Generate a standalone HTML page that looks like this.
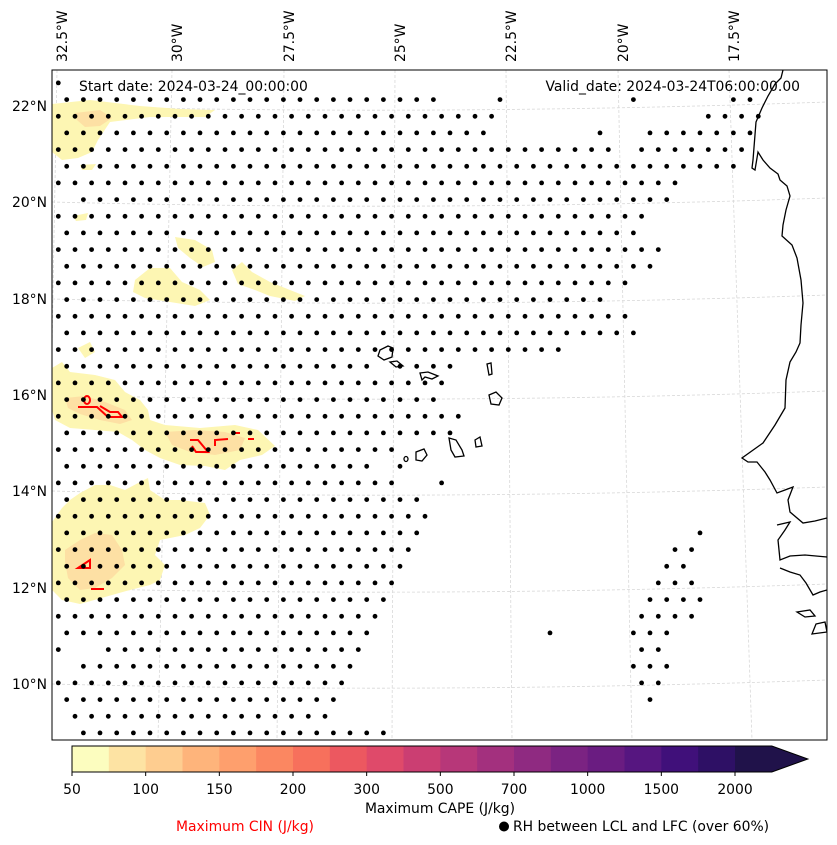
<!DOCTYPE html>
<html><head><meta charset="utf-8"><style>
html,body{margin:0;padding:0;background:#fff;}
svg{display:block;font-family:"DejaVu Sans","Liberation Sans",sans-serif;}
</style></head><body>
<svg id="chart" width="837" height="845" viewBox="0 0 837 845" xmlns="http://www.w3.org/2000/svg">
<defs><clipPath id="mapclip"><rect x="52" y="70" width="775" height="670"/></clipPath></defs>
<g id="map" clip-path="url(#mapclip)">
  <g id="gridlines"></g>
  <g id="cape">
    <path fill="#fdf6b3" d="M52,104 L90,100 L140,106 L180,109 L215,110 L205,117 L150,117 L110,122 L98,140 L92,152 L78,158 L62,160 L52,152 Z"/>
    <path fill="#fde0a4" d="M75,113 L100,110 L112,118 L100,126 L85,127 L77,120 Z"/>
    <path fill="#fdf6b3" d="M80,165 L96,164 L92,170 L82,170 Z"/>
    <path fill="#fdf6b3" d="M73,216 L88,213 L86,220 L76,221 Z"/>
    <path fill="#fdf6b3" d="M175,237 L195,240 L212,250 L215,262 L203,267 L190,258 L178,248 Z"/>
    <path fill="#fdf6b3" d="M135,280 L150,268 L170,268 L182,282 L200,290 L210,300 L195,306 L170,302 L145,298 L133,292 Z"/>
    <path fill="#fdf6b3" d="M232,270 L242,262 L252,272 L270,282 L290,290 L305,296 L295,301 L270,296 L255,290 L238,284 Z"/>
    <path fill="#fdf6b3" d="M78,348 L90,342 L95,352 L85,358 Z"/>
    <path fill="#fdf6b3" d="M52,368 L62,362 L70,372 L95,375 L115,380 L125,392 L140,400 L148,410 L150,420 L165,425 L200,428 L235,425 L258,430 L275,446 L262,455 L240,460 L225,470 L205,466 L180,465 L160,458 L145,450 L132,440 L118,432 L95,430 L70,428 L55,420 L52,410 Z"/>
    <path fill="#fde0a4" d="M65,398 L85,396 L105,402 L125,410 L132,420 L120,424 L100,420 L80,414 L68,408 Z"/>
    <path fill="#fde0a4" d="M165,432 L195,430 L225,432 L245,438 L240,450 L215,455 L190,452 L172,445 Z"/>
    <path fill="#fdf6b3" d="M52,522 L62,508 L70,500 L80,493 L95,485 L110,485 L125,490 L140,482 L148,478 L150,490 L165,500 L180,500 L205,503 L210,515 L200,528 L185,535 L160,540 L155,555 L165,565 L160,580 L150,585 L130,590 L105,597 L80,604 L62,600 L52,590 Z"/>
    <path fill="#fde0a4" d="M65,550 L80,540 L95,533 L112,535 L122,550 L125,565 L112,578 L95,588 L80,590 L68,578 L65,562 Z"/>
  </g>
  <g id="cin" fill="none" stroke="#ff0000" stroke-width="2">
    <path d="M78,407 L97,407 L108,417 L122,417 L118,412 L110,412 L100,406"/>
    <ellipse cx="87" cy="400" rx="3" ry="4"/>
    <path d="M190,440 L198,440 L208,452 L196,452 L192,446"/>
    <path d="M215,446 L215,440 L228,439"/>
    <path d="M233,433 L240,433 M248,439 L254,439"/>
    <path d="M78,568 L90,560 L90,568 Z"/>
    <path d="M91,589 L104,589"/>
  </g>
  <g id="dots"></g>
  <g id="coast" fill="none" stroke="#000" stroke-width="1.3">
    <path d="M783,70 L781,78 L775,84 L768,96 L762,108 L756,122 L753,160 L752,168 L755,170 L758,152 L763,160 L770,168 L778,174 L780,180 L787,186 L790,196 L786,210 L783,225 L782,236 L792,245 L797,258 L801,280 L803,303 L801,325 L800,343 L796,352 L790,362 L786,380 L785,408 L775,425 L763,443 L742,458 L748,462 L757,462 L765,472 L770,480 L777,493 L785,490 L793,487 L788,500 L790,512 L803,523 L815,521 L827,518"/>
    <path d="M777,525 L790,522 L785,530 L778,540 L780,560 L790,556 L805,555 L827,557 M780,568 L790,572 L800,575 L806,583 L813,595 L820,592 L827,590 M797,612 L810,610 L815,616 L805,617 Z M816,624 L825,622 L827,632 L812,634 Z"/>
    <path d="M380,350 L388,346 L393,348 L392,357 L384,360 L378,356 Z"/>
    <path d="M390,362 L397,361 L403,366 L396,367 Z"/>
    <path d="M420,373 L428,372 L438,376 L432,379 L425,377 L422,380 Z"/>
    <path d="M487,364 L491,363 L492,374 L489,375 Z"/>
    <path d="M489,395 L496,392 L502,398 L499,405 L491,404 Z"/>
    <path d="M449,438 L456,440 L462,450 L464,456 L455,457 L451,450 Z"/>
    <path d="M475,440 L480,437 L482,446 L476,447 Z"/>
    <path d="M416,452 L424,449 L427,455 L422,461 L416,460 Z"/>
    <ellipse cx="406" cy="459" rx="2" ry="2.5"/>
  </g>
</g>
<rect x="52" y="70" width="775" height="670" fill="none" stroke="#000" stroke-width="1"/>
<text x="79" y="91" font-size="13.9" fill="#000">Start date: 2024-03-24_00:00:00</text>
<text x="800" y="91" font-size="13.9" fill="#000" text-anchor="end">Valid_date: 2024-03-24T06:00:00.00</text>
<g id="lonlabels"></g>
<g id="latlabels"></g>
<g id="colorbar"></g>
<text x="440" y="813" font-size="13.9" text-anchor="middle" fill="#000">Maximum CAPE (J/kg)</text>
<text x="245" y="831" font-size="13.9" text-anchor="middle" fill="#ff0000">Maximum CIN (J/kg)</text>
<circle cx="504" cy="826.5" r="5" fill="#000"/>
<text x="513" y="831" font-size="13.9" fill="#000">RH between LCL and LFC (over 60%)</text>
</svg>
<script>
const NS='http://www.w3.org/2000/svg';
const lonLabels=['32.5°W','30°W','27.5°W','25°W','22.5°W','20°W','17.5°W'];
const lonTopX=[57,172,284,395,506,618,729];
const lonBotX=[45,158,277,392,512,632,752];
const latLabels=['22°N','20°N','18°N','16°N','14°N','12°N','10°N'];
const latY=[106,202,299,395,491,588,684];
const cbLevels=[50,75,100,125,150,175,200,250,300,400,500,600,700,850,1000,1250,1500,1750,2000];
const cbTickLabels=['50','100','150','200','300','500','700','1000','1500','2000'];
const cbColors=['#fcfdbf','#fde3a3','#fecd90','#feb47b','#fe9f6d','#fb8761','#f7705c','#ec5860','#df4a6a','#cb3e72','#b73779','#a3307e','#8f2a81','#7b2382','#6a1c81','#561680','#40107a','#2e1065','#20124a'];
const rowStart=-1;
const rowRanges=[
 [[57,57]],
 [[66,433],[500,500],[633,633],[733,750]],
 [[58,492],[708,758]],
 [[66,483],[600,600],[650,750]],
 [[58,608],[642,742]],
 [[66,733]],
 [[58,675]],
 [[83,667]],
 [[58,642]],
 [[66,633]],
 [[58,658]],
 [[66,650]],
 [[58,625]],
 [[66,600]],
 [[58,625]],
 [[66,633]],
 [[58,558]],
 [[66,367],[400,450]],
 [[58,442]],
 [[66,433]],
 [[58,458]],
 [[66,450]],
 [[58,392]],
 [[66,367],[400,400]],
 [[58,392],[442,442]],
 [[66,417]],
 [[58,425]],
 [[66,417],[700,700]],
 [[58,408],[675,692]],
 [[66,400],[667,683]],
 [[58,392],[658,692]],
 [[66,383],[650,700]],
 [[58,375],[642,692]],
 [[66,367],[550,550],[633,667]],
 [[58,58],[108,358],[642,658]],
 [[83,350],[633,667]],
 [[58,342],[642,658]],
 [[66,333],[650,650]],
 [[75,333]],
 [[83,383]]
];
const DX=16.667, DY=16.667, Y0=99.6;
function rowY(r){return Y0+(r)*DY;}
function rowX0(r){return (r%2===0)?66.7:58.3;}

const grid=document.getElementById('gridlines');
lonTopX.forEach((x,i)=>{
  const l=document.createElementNS(NS,'line');
  
  
  l.setAttribute('x1',x);l.setAttribute('y1',70);l.setAttribute('x2',lonBotX[i]);l.setAttribute('y2',740);
  l.setAttribute('stroke','#d8d8d8');l.setAttribute('stroke-width','0.8');l.setAttribute('stroke-dasharray','3,2');
  grid.appendChild(l);
});
latY.forEach(y=>{
  const p=document.createElementNS(NS,'path');
  
  
  p.setAttribute('d',`M52,${y} Q440,${y+10} 827,${y-4}`);
  p.setAttribute('fill','none');p.setAttribute('stroke','#d8d8d8');p.setAttribute('stroke-width','0.8');p.setAttribute('stroke-dasharray','3,2');
  grid.appendChild(p);
});

const dots=document.getElementById('dots');
rowRanges.forEach((ranges,i)=>{
  const r=i+rowStart;
  const y=rowY(r);
  const x0=rowX0(r);
  for(let x=x0-DX*3;x<830;x+=DX){
    const inR=ranges.some(([a,b])=>x>=a-5&&x<=b+5);
    if(!inR||x<53) continue;
    const c=document.createElementNS(NS,'circle');
    
    
    c.setAttribute('cx',x.toFixed(1));c.setAttribute('cy',y.toFixed(1));c.setAttribute('r','2.4');c.setAttribute('fill','#000');
    dots.appendChild(c);
  }
});

const lonG=document.getElementById('lonlabels');
lonLabels.forEach((t,i)=>{
  const x=lonTopX[i]+5;
  const tx=document.createElementNS(NS,'text');
  
  
  tx.setAttribute('x',x);tx.setAttribute('y',62);tx.setAttribute('font-size','13.9');
  tx.setAttribute('transform',`rotate(-90 ${x} 62)`);
  tx.setAttribute('dy','0.35em');
  tx.textContent=t;lonG.appendChild(tx);
});
const latG=document.getElementById('latlabels');
latLabels.forEach((t,i)=>{
  const tx=document.createElementNS(NS,'text');
  
  
  tx.setAttribute('x',47);tx.setAttribute('y',latY[i]+5);tx.setAttribute('font-size','13.9');tx.setAttribute('text-anchor','end');
  tx.textContent=t;latG.appendChild(tx);
});

const cb=document.getElementById('colorbar');
const cbX0=72, cbX1=735, cbY=746, cbH=26;
const binW=(cbX1-cbX0)/(cbLevels.length-1);
function cbx(i){return cbX0+i*binW;}
cbColors.forEach((col,i)=>{
  const r=document.createElementNS(NS,'rect');
  
  
  r.setAttribute('x',cbx(i));r.setAttribute('y',cbY);r.setAttribute('width',binW+0.5);r.setAttribute('height',cbH);r.setAttribute('fill',col);
  cb.appendChild(r);
});
const endX=cbx(cbColors.length);
const tri=document.createElementNS(NS,'path');


tri.setAttribute('d',`M${endX},${cbY} L${endX+36},${cbY+cbH/2} L${endX},${cbY+cbH} Z`);
tri.setAttribute('fill',cbColors[cbColors.length-1]);
cb.appendChild(tri);
const outline=document.createElementNS(NS,'path');


outline.setAttribute('d',`M${cbX0},${cbY} L${endX},${cbY} L${endX+36},${cbY+cbH/2} L${endX},${cbY+cbH} L${cbX0},${cbY+cbH} Z`);
outline.setAttribute('fill','none');outline.setAttribute('stroke','#000');outline.setAttribute('stroke-width','1');
cb.appendChild(outline);
cbTickLabels.forEach(t=>{
  const idx=cbLevels.indexOf(Number(t));
  const x=cbx(idx);
  const tk=document.createElementNS(NS,'line');
  
  
  tk.setAttribute('x1',x);tk.setAttribute('x2',x);tk.setAttribute('y1',cbY+cbH);tk.setAttribute('y2',cbY+cbH+4);tk.setAttribute('stroke','#000');
  cb.appendChild(tk);
  const tx=document.createElementNS(NS,'text');
  
  
  tx.setAttribute('x',x);tx.setAttribute('y',794);tx.setAttribute('font-size','13.9');tx.setAttribute('text-anchor','middle');
  tx.textContent=t;cb.appendChild(tx);
});
</script>
</body></html>
